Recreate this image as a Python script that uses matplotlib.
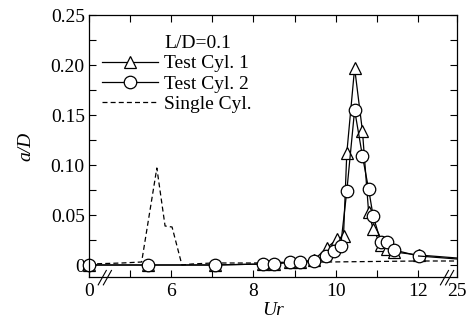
import numpy as np
import matplotlib
matplotlib.use('Agg')
import matplotlib.pyplot as plt
from matplotlib.scale import FuncScale

plt.rcParams['font.family'] = ['Liberation Serif', 'DejaVu Serif']
plt.rcParams['font.size'] = 14

# ---- data ----
ur_cyl1 = [0, 5.43, 7.06, 8.24, 8.5, 8.89, 9.13, 9.47, 9.78, 10.04, 10.19, 10.27,
           10.46, 10.65, 10.8, 10.91, 11.1, 11.24, 11.42, 12.22, 25]
ad_cyl1 = [0.0, 0.0, 0.0, 0.001, 0.001, 0.003, 0.003, 0.005, 0.017, 0.026, 0.029, 0.112,
           0.197, 0.134, 0.053, 0.036, 0.020, 0.016, 0.013, 0.010, 0.007]

ur_cyl2 = [0, 5.43, 7.06, 8.24, 8.5, 8.89, 9.13, 9.47, 9.76, 9.96, 10.12, 10.27,
           10.46, 10.65, 10.8, 10.91, 11.1, 11.24, 11.42, 12.22, 25]
ad_cyl2 = [0.0, 0.0, 0.0, 0.001, 0.001, 0.003, 0.003, 0.004, 0.009, 0.014, 0.019, 0.074,
           0.155, 0.109, 0.076, 0.049, 0.023, 0.023, 0.015, 0.009, 0.006]

ur_single = [0, 4.8, 5.28, 5.65, 5.85, 6.02, 6.26, 6.5, 7.0, 8.0, 9.0, 9.8, 12.0, 25]
ad_single = [0.001, 0.002, 0.003, 0.097, 0.039, 0.038, 0.0, 0.001, 0.002, 0.002,
             0.003, 0.003, 0.004, 0.004]

xticks = [0, 6, 8, 10, 12, 25]
xminor = [5, 7, 9, 11]
yticks = [0, 0.05, 0.10, 0.15, 0.20, 0.25]
yticklabels = ['0', '0.05', '0.10', '0.15', '0.20', '0.25']

# broken x axis: 0..4.3 squeezed, 4.3..12 linear, 12..25 squeezed
u_pts = [-100, 0, 4.3, 12, 25, 200]
p_pts = [4 - 100 * 0.3 / 4.3, 4, 4.3, 12, 12.95, 12.95 + 175 * 0.95 / 13]


def fwd(u):
    return np.interp(u, u_pts, p_pts)


def inv(p):
    return np.interp(p, p_pts, u_pts)


fig = plt.figure(figsize=(4.73, 3.29), dpi=100)
ax = fig.add_axes([89 / 473, 1 - 277 / 329, 368 / 473, 262 / 329])
ax.set_xscale(FuncScale(ax, (fwd, inv)))

ax.plot(ur_single, ad_single, '--', color='k', lw=0.9, dashes=(4, 2.5),
        label='Single Cyl.', clip_on=False)
ax.plot(ur_cyl1[:-1], ad_cyl1[:-1], '-', color='k', lw=0.9, marker='^', ms=9,
        mfc='white', mec='k', mew=0.9, label='Test Cyl. 1', clip_on=False)
ax.plot(ur_cyl1[-2:], ad_cyl1[-2:], '-', color='k', lw=0.9)
ax.plot(ur_cyl2[:-1], ad_cyl2[:-1], '-', color='k', lw=0.9, marker='o', ms=9,
        mfc='white', mec='k', mew=0.9, label='Test Cyl. 2', clip_on=False)
ax.plot(ur_cyl2[-2:], ad_cyl2[-2:], '-', color='k', lw=0.9)

ax.set_xlim(0, 25)
ax.set_ylim(-0.012, 0.25)
ax.set_xticks(xticks)
ax.set_xticklabels([str(t) for t in xticks])
ax.set_xticks(xminor, minor=True)
ax.set_yticks(yticks)
ax.set_yticklabels(yticklabels)
ax.set_yticks(np.arange(0.025, 0.25, 0.05), minor=True)
ax.tick_params(which='both', direction='in', top=True, right=True, length=5, width=0.8)
ax.tick_params(axis='x', pad=4)
ax.tick_params(axis='y', pad=3)
for s in ax.spines.values():
    s.set_linewidth(0.9)

ax.set_xlabel('Ur', fontstyle='italic', labelpad=2)
ax.set_ylabel('a/D', fontstyle='italic', labelpad=12)

# break marks on the x axis
for x0 in [0.025, 0.955]:
    for dx in [0, 0.014]:
        ax.plot([x0 + dx, x0 + dx + 0.022], [-0.03, 0.025], color='k', lw=0.8,
                transform=ax.transAxes, clip_on=False)

# legend with the L/D entry as a blank first row
ax.plot([], [], ' ', label='L/D=0.1')
h, l = ax.get_legend_handles_labels()
order = [3, 1, 2, 0]
ax.legend([h[i] for i in order], [l[i] for i in order], loc='upper left',
          bbox_to_anchor=(0.035, 0.925), frameon=False, handlelength=2.9,
          handletextpad=0.3, labelspacing=0.13, borderpad=0, borderaxespad=0,
          numpoints=1)

plt.savefig('out.png', dpi=100)
